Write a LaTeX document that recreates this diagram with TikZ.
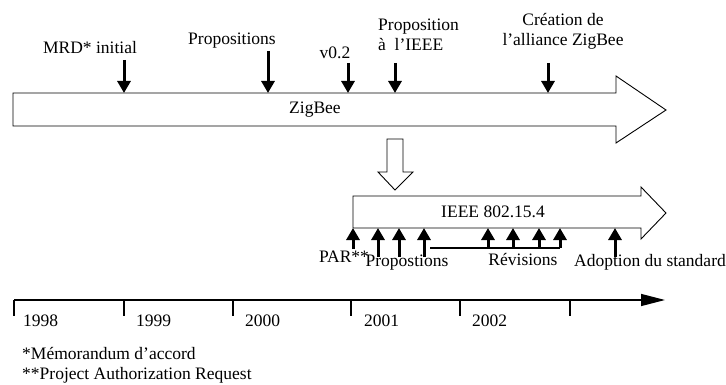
\documentclass[tikz,border=0pt]{standalone}
\usepackage{fontspec}
\setmainfont{Liberation Serif}
\usetikzlibrary{arrows.meta}
\begin{document}
\begin{tikzpicture}[x=1pt,y=-1pt,
  lbl/.style={inner sep=0pt, font=\fontsize{17.5}{20}\selectfont},
  outl/.style={draw=black, line width=0.9pt, fill=white, line join=miter},
  evt/.style={line width=3pt, -{Triangle[length=12pt,width=13pt]}},
  tickmark/.style={line width=2.8pt},
  axis/.style={line width=1.4pt, -{Triangle[length=24pt,width=12pt]}}]
\useasboundingbox (0,0) rectangle (726,385);

% ---------- ZigBee arrow ----------
\draw[outl] (13,93) -- (616,93) -- (616,76) -- (666,110) -- (616,143) -- (616,126) -- (13,126) -- cycle;
\node[lbl] (zig) at (315,110) {ZigBee};

% top labels
\node[lbl] (mrd) at (90,48) {MRD* initial};
\node[lbl] (prop) at (232,41) {Propositions};
\node[lbl] (v02) at (335,53) {v0.2};
\node[lbl, align=left, anchor=west] (pieee) at (378,35) {Proposition\\à\ \ l'IEEE};
\node[lbl, align=center] (crea) at (563,31) {Création de\\l'alliance ZigBee};

\coordinate (a1s) at (124,60);  \coordinate (a1e) at (124,93);
\coordinate (a2s) at (268,51);  \coordinate (a2e) at (268,93);
\coordinate (a3s) at (348,63);  \coordinate (a3e) at (348,93);
\coordinate (a4s) at (395,63);  \coordinate (a4e) at (395,93);
\coordinate (a5s) at (548,63);  \coordinate (a5e) at (548,93);
\draw[evt] (a1s) -- (a1e);
\draw[evt] (a2s) -- (a2e);
\draw[evt] (a3s) -- (a3e);
\draw[evt] (a4s) -- (a4e);
\draw[evt] (a5s) -- (a5e);

% ---------- hollow down arrow ----------
\draw[outl] (387,139) -- (403,139) -- (403,172) -- (413,172) -- (395,190) -- (378,172) -- (387,172) -- cycle;

% ---------- IEEE arrow ----------
\draw[outl] (353,196) -- (641,196) -- (641,187) -- (666,213) -- (641,239) -- (641,228) -- (353,228) -- cycle;
\node[lbl] (ieee) at (493,212) {IEEE 802.15.4};

\coordinate (b1s) at (353,249); \coordinate (b1e) at (353,228);
\coordinate (b2s) at (378,257); \coordinate (b2e) at (378,228);
\coordinate (b3s) at (399,257); \coordinate (b3e) at (399,228);
\coordinate (b4s) at (424,257); \coordinate (b4e) at (424,228);
\coordinate (r1s) at (488,248); \coordinate (r1e) at (488,228);
\coordinate (r2s) at (513,248); \coordinate (r2e) at (513,228);
\coordinate (r3s) at (539,248); \coordinate (r3e) at (539,228);
\coordinate (r4s) at (560,248); \coordinate (r4e) at (560,228);
\coordinate (bar) at (430,248);
\coordinate (ads) at (615,257); \coordinate (ade) at (615,228);
\draw[evt] (b1s) -- (b1e);
\draw[evt] (b2s) -- (b2e);
\draw[evt] (b3s) -- (b3e);
\draw[evt] (b4s) -- (b4e);
\draw[evt] (r1s) -- (r1e);
\draw[evt] (r2s) -- (r2e);
\draw[evt] (r3s) -- (r3e);
\draw[evt] (r4s) -- (r4e);
\draw[evt] (ads) -- (ade);
\draw[tickmark] (bar) -- (r4s);

\node[lbl] (par) at (344,257) {PAR**};
\node[lbl] (props) at (407,263) {Propostions};
\node[lbl] (rev) at (523,260) {Révisions};
\node[lbl] (adop) at (650,262) {Adoption du standard};

% ---------- time axis ----------
\coordinate (t0) at (14,300);
\coordinate (tend) at (665,300);
\draw[axis] (t0) -- (tend);
\foreach \x/\n in {14/k0,124/k1,233/k2,351/k3,460/k4,570/k5}{
  \coordinate (\n) at (\x,300);
  \coordinate (\n b) at (\x,316);
  \draw[tickmark] (\n) -- (\n b);
}
\node[lbl, anchor=west] (y98) at (23,321) {1998};
\node[lbl, anchor=west] (y99) at (136,321) {1999};
\node[lbl, anchor=west] (y00) at (245,321) {2000};
\node[lbl, anchor=west] (y01) at (364,321) {2001};
\node[lbl, anchor=west] (y02) at (472,321) {2002};

\node[lbl, anchor=west] (fn1) at (22,354) {*Mémorandum d'accord};
\node[lbl, anchor=west] (fn2) at (22,375) {**Project Authorization Request};
\end{tikzpicture}
\end{document}
